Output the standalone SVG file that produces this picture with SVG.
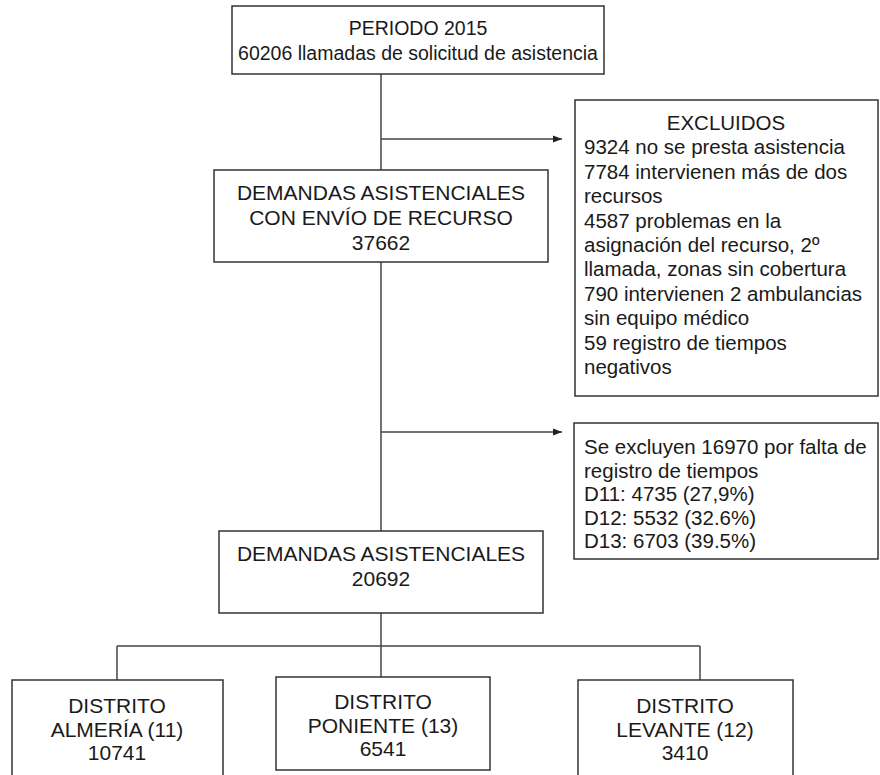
<svg xmlns="http://www.w3.org/2000/svg" width="880" height="775" viewBox="0 0 880 775">
<defs>
<marker id="arr" markerWidth="10" markerHeight="8" refX="9" refY="4" orient="auto" markerUnits="userSpaceOnUse">
<path d="M0,0.5 L9,4 L0,7.5 z" fill="#222"/>
</marker>
<style>
.box{fill:#fff;stroke:#333;stroke-width:1.5}
.t{font-family:"Liberation Sans",Arial,sans-serif;fill:#1a1a1a}
.c{text-anchor:middle}
.s19{font-size:19.5px}
.s20{font-size:20.5px}
.s21{font-size:21px}
.ln{stroke:#444;stroke-width:1.5;fill:none}
</style>
</defs>
<rect width="880" height="775" fill="#fff"/>
<g id="connectors">
<line class="ln" x1="381" y1="74" x2="381" y2="170"/>
<line class="ln" x1="381" y1="139" x2="562" y2="139" marker-end="url(#arr)"/>
<line class="ln" x1="381" y1="262" x2="381" y2="531"/>
<line class="ln" x1="381" y1="432" x2="562" y2="432" marker-end="url(#arr)"/>
<line class="ln" x1="381" y1="613" x2="381" y2="677"/>
<line class="ln" x1="117" y1="646" x2="700" y2="646"/>
<line class="ln" x1="117" y1="646" x2="117" y2="680"/>
<line class="ln" x1="700" y1="646" x2="700" y2="680"/>
</g>
<g id="periodo">
<rect class="box" x="232" y="6" width="372" height="68"/>
<text class="t c s19" x="418" y="35">PERIODO 2015</text>
<text class="t c s19" x="418" y="60">60206 llamadas de solicitud de asistencia</text>
</g>
<g id="excluidos">
<rect class="box" x="575" y="100" width="303" height="296"/>
<text class="t c s20" x="726" y="130">EXCLUIDOS</text>
<text class="t s20" x="584" y="154">9324 no se presta asistencia</text>
<text class="t s20" x="584" y="179">7784 intervienen más de dos</text>
<text class="t s20" x="584" y="203">recursos</text>
<text class="t s20" x="584" y="228">4587 problemas en la</text>
<text class="t s20" x="584" y="252">asignación del recurso, 2º</text>
<text class="t s20" x="584" y="276">llamada, zonas sin cobertura</text>
<text class="t s20" x="584" y="301">790 intervienen 2 ambulancias</text>
<text class="t s20" x="584" y="325">sin equipo médico</text>
<text class="t s20" x="584" y="350">59 registro de tiempos</text>
<text class="t s20" x="584" y="374">negativos</text>
</g>
<g id="demandas-envio">
<rect class="box" x="214" y="170" width="334" height="92"/>
<text class="t c s21" x="381" y="200">DEMANDAS ASISTENCIALES</text>
<text class="t c s21" x="381" y="225">CON ENVÍO DE RECURSO</text>
<text class="t c s21" x="381" y="250">37662</text>
</g>
<g id="se-excluyen">
<rect class="box" x="574" y="423" width="304" height="136"/>
<text class="t s20" x="584" y="454">Se excluyen 16970 por falta de</text>
<text class="t s20" x="584" y="478">registro de tiempos</text>
<text class="t s20" x="584" y="501">D11: 4735 (27,9%)</text>
<text class="t s20" x="584" y="525">D12: 5532 (32.6%)</text>
<text class="t s20" x="584" y="548">D13: 6703 (39.5%)</text>
</g>
<g id="demandas">
<rect class="box" x="219" y="531" width="324" height="82"/>
<text class="t c s21" x="381" y="561">DEMANDAS ASISTENCIALES</text>
<text class="t c s21" x="381" y="586">20692</text>
</g>
<g id="almeria">
<rect class="box" x="12" y="680" width="211" height="100"/>
<text class="t c s21" x="117" y="713">DISTRITO</text>
<text class="t c s21" x="117" y="737">ALMERÍA (11)</text>
<text class="t c s21" x="117" y="760">10741</text>
</g>
<g id="poniente">
<rect class="box" x="276" y="677" width="214" height="93"/>
<text class="t c s21" x="383" y="709">DISTRITO</text>
<text class="t c s21" x="383" y="733">PONIENTE (13)</text>
<text class="t c s21" x="383" y="756">6541</text>
</g>
<g id="levante">
<rect class="box" x="578" y="680" width="215" height="100"/>
<text class="t c s21" x="685" y="713">DISTRITO</text>
<text class="t c s21" x="685" y="737">LEVANTE (12)</text>
<text class="t c s21" x="685" y="760">3410</text>
</g>
</svg>
